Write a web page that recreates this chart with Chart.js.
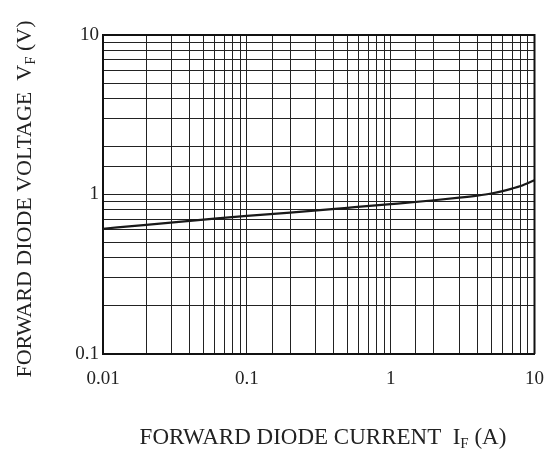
<!DOCTYPE html>
<html>
<head>
<meta charset="utf-8">
<script src="https://cdn.jsdelivr.net/npm/chart.js@4/dist/chart.umd.min.js"></script>
<style>
  html, body { margin: 0; padding: 0; background: #fff; }
  #wrap { width: 558px; height: 458px; }
</style>
</head>
<body>
<div id="wrap"><canvas id="vfChart" width="558" height="458"></canvas></div>
<script>
// forward current IF (A) and forward voltage VF (V)
const currentA = [0.01, 0.02, 0.05, 0.1, 0.2, 0.5, 1, 2, 3, 4, 5, 6, 7, 8, 10];
const voltageV = [0.61, 0.645, 0.695, 0.735, 0.77, 0.825, 0.87, 0.92, 0.955, 0.985, 1.015, 1.05, 1.09, 1.13, 1.23];

const xTickLabels = ['0.01', '0.1', '1', '10'];
const yTickLabels = ['0.1', '1', '10'];

const FONT = '"Liberation Serif", "Times New Roman", serif';
const SUB_SIZE = 15;

// titles with subscripts drawn by hand
const titlePlugin = {
    id: 'titles',
    afterDraw(chart) {
        const ctx = chart.ctx;
        ctx.save();
        ctx.fillStyle = '#222';
        ctx.textBaseline = 'alphabetic';

        const setFont = (p, size) => { ctx.font = (p.sub ? SUB_SIZE : size) + 'px ' + FONT; };
        const drawParts = (parts, size, x, y) => {
            let cx = x;
            parts.forEach(p => {
                setFont(p, size);
                ctx.fillText(p.t, cx, y + (p.sub ? 4 : 0));
                cx += ctx.measureText(p.t).width;
            });
        };
        const measure = (parts, size) => parts.reduce((w, p) => {
            setFont(p, size);
            return w + ctx.measureText(p.t).width;
        }, 0);

        const xParts = [{ t: 'FORWARD DIODE CURRENT  I' }, { t: 'F', sub: true }, { t: ' (A)' }];
        drawParts(xParts, 23, 323 - measure(xParts, 23) / 2, 444);

        const yParts = [{ t: 'FORWARD DIODE VOLTAGE  V' }, { t: 'F', sub: true }, { t: ' (V)' }];
        const yw = measure(yParts, 22);
        ctx.translate(31, 199);
        ctx.rotate(-Math.PI / 2);
        drawParts(yParts, 22, -yw / 2, 0);
        ctx.restore();
    }
};

const isDecade = v => Math.abs(Math.log10(v) - Math.round(Math.log10(v))) < 1e-6;
const label = list => v => {
    const s = String(Number(v.toPrecision(3)));
    return isDecade(v) && list.includes(s) ? s : '';
};

new Chart(document.getElementById('vfChart').getContext('2d'), {
    type: 'line',
    data: {
        datasets: [{
            data: currentA.map((x, i) => ({ x: x, y: voltageV[i] })),
            borderColor: '#1a1a1a',
            borderWidth: 2.2,
            pointRadius: 0,
            tension: 0.4,
            cubicInterpolationMode: 'monotone',
            fill: false
        }]
    },
    options: {
        responsive: false,
        animation: false,
        layout: { padding: { left: 0, right: 16, top: 35, bottom: 0 } },
        plugins: { legend: { display: false }, tooltip: { enabled: false } },
        scales: {
            x: {
                type: 'logarithmic',
                min: 0.01,
                max: 10,
                afterFit(scale) { scale.height = 104; },
                border: { display: true, color: '#111', width: 2 },
                grid: { color: '#222', lineWidth: 1, drawTicks: false },
                ticks: {
                    autoSkip: false,
                    maxRotation: 0,
                    padding: 14,
                    color: '#222',
                    font: { family: FONT, size: 19 },
                    callback: label(xTickLabels)
                }
            },
            y: {
                type: 'logarithmic',
                min: 0.1,
                max: 10,
                afterFit(scale) { scale.width = 103; },
                border: { display: true, color: '#111', width: 2 },
                grid: { color: '#222', lineWidth: 1, drawTicks: false },
                ticks: {
                    autoSkip: false,
                    padding: 4,
                    color: '#222',
                    font: { family: FONT, size: 19 },
                    callback: label(yTickLabels)
                }
            }
        }
    },
    plugins: [titlePlugin, {
        id: 'frame',
        afterDraw(chart) {
            const a = chart.chartArea, ctx = chart.ctx;
            ctx.save();
            ctx.strokeStyle = '#111';
            ctx.lineWidth = 2;
            ctx.beginPath();
            ctx.moveTo(a.left, a.top);
            ctx.lineTo(a.right, a.top);
            ctx.lineTo(a.right, a.bottom);
            ctx.stroke();
            ctx.restore();
        }
    }]
});
</script>
</body>
</html>
